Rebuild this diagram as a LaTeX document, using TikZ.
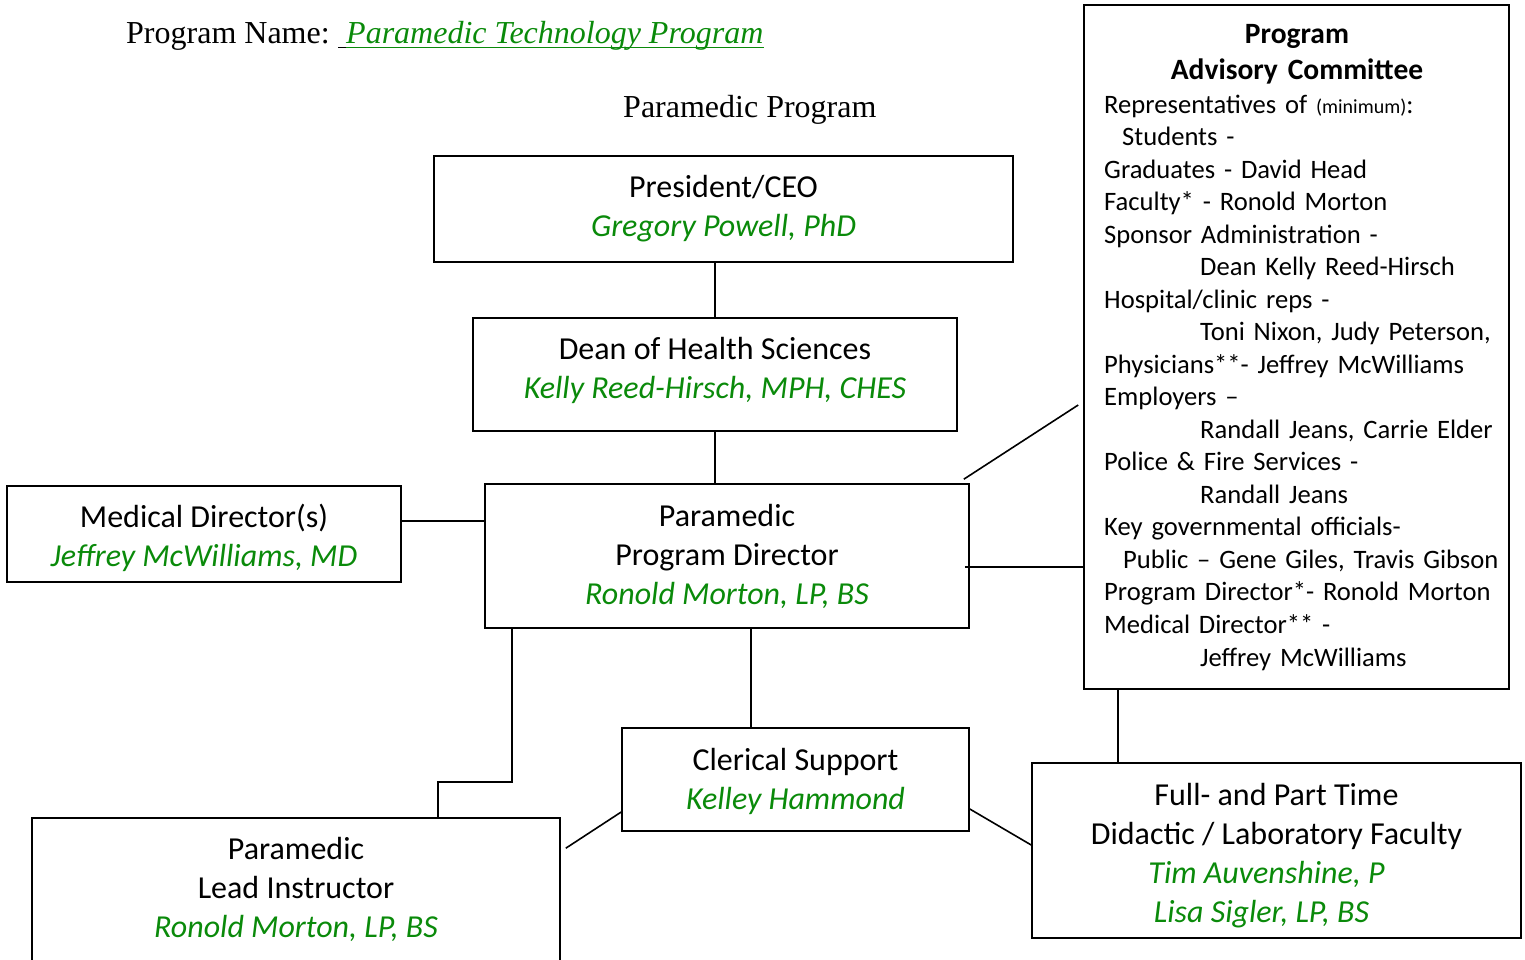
\documentclass[tikz,border=0pt]{standalone}
\usepackage{fontspec}
\setmainfont{Liberation Serif}
\newfontfamily\calibri[Ligatures=TeX]{Carlito}
\usetikzlibrary{calc}
\definecolor{ink}{HTML}{000000}
\definecolor{namegreen}{HTML}{0A8A0A}
\newcommand{\who}[1]{{\color{namegreen}\itshape #1}}

\begin{document}
\begin{tikzpicture}[x=1pt, y=-1pt,
  box/.style={draw=ink, line width=1.6pt, align=center, inner sep=0pt,
    font=\calibri\fontsize{32}{39}\selectfont},
  link/.style={draw=ink, line width=1.6pt},
  hdr/.style={font=\fontsize{32}{38}\selectfont, inner sep=0pt},
  comtitle/.style={font=\calibri\bfseries\fontsize{29.5}{36}\selectfont, inner sep=0pt,
    text width=400pt, align=center},
  comlist/.style={font=\calibri\fontsize{26.6}{32.53}\selectfont, inner sep=0pt,
    text width=400pt, align=left}
]
\clip (0,0) rectangle (1525,959);

% header
\node[hdr, anchor=base west] (pname) at (126,43) {Program Name:};
\node[hdr, anchor=base west] (ptitle) at (346,43) {\who{Paramedic Technology Program}};
\draw[ink, line width=1.5pt] ([shift={(-8pt,-4.5pt)}]ptitle.base west) -- ([yshift=-4.5pt]ptitle.base west);
\draw[namegreen, line width=1.5pt] ([yshift=-4.5pt]ptitle.base west) -- ([yshift=-4.5pt]ptitle.base east);
\node[hdr, anchor=base west] (pprog) at (623,117) {Paramedic Program};

% chain of command
\node[box, minimum width=579pt, minimum height=106pt] (pres) at (723.5,209) {President/CEO\\\who{Gregory Powell, PhD}};
\node[box, minimum width=484pt, minimum height=113pt] (dean) at (715,374.5) {Dean of Health Sciences\\\who{Kelly Reed-Hirsch, MPH, CHES}\rule[-13pt]{0pt}{0pt}};
\node[box, minimum width=394pt, minimum height=96pt] (md) at (204,534) {\rule{0pt}{32pt}Medical Director(s)\\\who{Jeffrey McWilliams, MD}};
\node[box, minimum width=484pt, minimum height=144pt] (pd) at (727,556) {Paramedic\\Program Director\\\who{Ronold Morton, LP, BS}};
\node[box, minimum width=347pt, minimum height=103pt] (cler) at (795.5,779.5) {\rule{0pt}{26pt}Clerical Support\\\who{Kelley Hammond}};
\node[box, minimum width=528pt, minimum height=143pt] (lead) at (296,889.5) {Paramedic\\Lead Instructor\\\who{Ronold Morton, LP, BS}};
\node[box, minimum width=489pt, minimum height=175pt] (fac) at (1276.5,850.5) {\rule{0pt}{32pt}Full- and Part Time\\Didactic / Laboratory Faculty\\\who{Tim Auvenshine, P}\kern20pt\\\who{Lisa Sigler, LP, BS}\kern30pt};

% advisory committee
\node[box, minimum width=425pt, minimum height=684pt] (comm) at (1296.5,347) {};
\node[comtitle, anchor=base] (ctitle) at (1297,43) {Program\\Advisory Committee};
\node[comlist, anchor=base west] (clist) at (1104,113) {Representatives of {\fontsize{20}{24}\selectfont(minimum)}:\\
\hspace*{18pt}Students -\\
Graduates - David Head\\
Faculty* - Ronold Morton\\
Sponsor Administration -\\
\hspace*{96pt}Dean Kelly Reed-Hirsch\\
Hospital/clinic reps -\\
\hspace*{96pt}Toni Nixon, Judy Peterson,\\
Physicians**- Jeffrey McWilliams\\
Employers --\\
\hspace*{96pt}Randall Jeans, Carrie Elder\\
Police \& Fire Services -\\
\hspace*{96pt}Randall Jeans\\
Key governmental officials-\\
\hspace*{19pt}Public -- Gene Giles, Travis Gibson\\
Program Director*- Ronold Morton\\
Medical Director** -\\
\hspace*{96pt}Jeffrey McWilliams};

% connectors
\coordinate (elbow) at (438,782);
\draw[link] (dean.north) -- (dean.north |- pres.south);
\draw[link] (dean.south) -- (dean.south |- pd.north);
\draw[link] ([yshift=13pt]md.east) -- ([yshift=13pt]md.east -| pd.west);
\draw[link] ([shift={(-6pt,4pt)}]pd.north east) -- ([shift={(-5pt,-58pt)}]comm.west);
\draw[link] ([shift={(-5pt,-11pt)}]pd.east) -- ([yshift=-11pt]pd.east -| comm.west);
\draw[link] ([xshift=-44.5pt]cler.north) -- ([xshift=-44.5pt]cler.north |- pd.south);
\draw[link] ([xshift=28pt]pd.south west) |- (elbow) -- (elbow |- lead.north);
\draw[link] ([yshift=-32.5pt]cler.west) -- ([shift={(5pt,-31pt)}]lead.north east);
\draw[link] ([yshift=-29.5pt]cler.east) -- ([yshift=5.5pt]fac.west);
\draw[link] ([xshift=35pt]comm.south west) -- ([xshift=35pt]comm.south west |- fac.north);
\end{tikzpicture}
\end{document}
